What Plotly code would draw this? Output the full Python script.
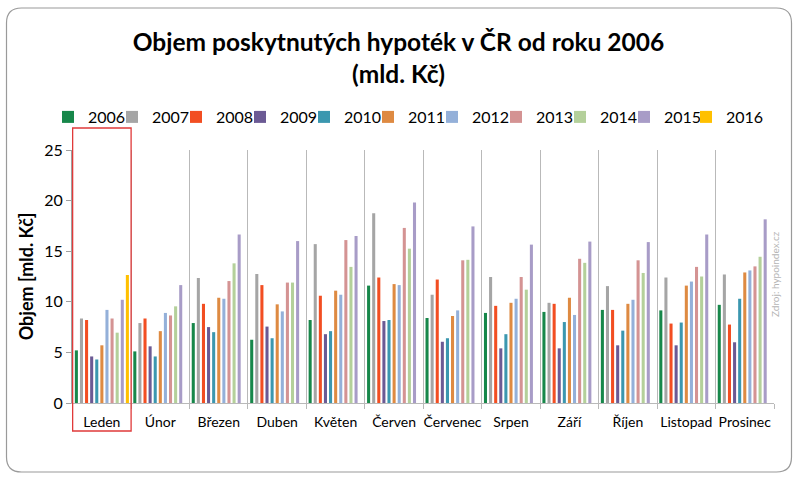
import plotly.graph_objects as go

months = ["Leden", "Únor", "Březen", "Duben", "Květen", "Červen",
          "Červenec", "Srpen", "Září", "Říjen", "Listopad", "Prosinec"]

v2006 = [5.2, 5.1, 7.9, 6.25, 8.2, 11.6, 8.4, 8.9, 9.0, 9.2, 9.15, 9.7]
v2007 = [8.35, 7.9, 12.35, 12.75, 15.7, 18.75, 10.7, 12.45, 9.9, 11.55, 12.4, 12.7]
v2008 = [8.2, 8.35, 9.8, 11.65, 10.6, 12.4, 12.2, 9.6, 9.8, 9.2, 7.85, 7.75]
v2009 = [4.6, 5.6, 7.5, 7.55, 6.8, 8.1, 6.05, 5.4, 5.4, 5.7, 5.7, 6.0]
v2010 = [4.3, 4.6, 7.0, 6.4, 7.1, 8.2, 6.4, 6.8, 8.0, 7.15, 7.95, 10.3]
v2011 = [5.7, 7.1, 10.4, 9.75, 11.1, 11.75, 8.6, 9.9, 10.4, 9.8, 11.6, 12.9]
v2012 = [9.2, 8.9, 10.3, 9.05, 10.7, 11.65, 9.15, 10.3, 8.7, 10.2, 12.0, 13.1]
v2013 = [8.35, 8.65, 12.05, 11.9, 16.1, 17.3, 14.1, 12.45, 14.25, 14.1, 13.45, 13.5]
v2014 = [6.95, 9.55, 13.8, 11.9, 13.45, 15.25, 14.15, 11.2, 13.85, 12.85, 12.5, 14.45]
v2015 = [10.2, 11.65, 16.65, 16.0, 16.5, 19.8, 17.45, 15.65, 15.95, 15.9, 16.65, 18.15]
v2016 = [12.65, None, None, None, None, None, None, None, None, None, None, None]

years = ["2006", "2007", "2008", "2009", "2010", "2011",
         "2012", "2013", "2014", "2015", "2016"]
series = [v2006, v2007, v2008, v2009, v2010, v2011,
          v2012, v2013, v2014, v2015, v2016]
colors = ["#17874a", "#a5a5a5", "#f24e22", "#6b5a94", "#3b97af", "#de8a42",
          "#94b0d9", "#d49393", "#b4d09a", "#a89cc7", "#ffc000"]

y_ticks = [0, 5, 10, 15, 20, 25]

FONT = "Lato"

fig = go.Figure()
for i, (name, vals, col) in enumerate(zip(years, series, colors)):
    fig.add_trace(go.Bar(x=months, y=vals, name=name, marker_color=col,
                         marker_line_width=0,
                         legend="legend2" if name == "2016" else "legend",
                         legendrank=i + 1))
# invisible spacer entry so the last text of the first legend is not clipped
fig.add_trace(go.Scatter(x=[None], y=[None], mode="markers", name=" ",
                         marker=dict(color="rgba(0,0,0,0)", size=1),
                         legend="legend", legendrank=50, hoverinfo="skip"))

W_px, H_px = 702.0, 253.0
def px(xp):
    return (xp - 72) / W_px
def py(yp):
    return (403 - yp) / H_px

fig.update_layout(
    width=797, height=477,
    margin=dict(l=72, r=23, t=150, b=74, autoexpand=False),
    paper_bgcolor="white", plot_bgcolor="white",
    barmode="group", bargap=0.04, bargroupgap=0.4,
    font=dict(family=FONT, color="black"),
    title=dict(text="<b>Objem poskytnutých hypoték v ČR od roku 2006<br>(mld. Kč)</b>",
               x=0.5, xanchor="center", y=1 - 51 / 477, yanchor="middle",
               font=dict(size=24.5, family=FONT, color="black"), automargin=False),
    showlegend=True,
    legend=dict(orientation="h", x=px(48), xanchor="left", y=py(117), yanchor="middle",
                font=dict(size=16, family=FONT), entrywidth=19, entrywidthmode="pixels",
                itemwidth=30, bgcolor="rgba(0,0,0,0)", traceorder="normal"),
    legend2=dict(orientation="h", x=px(686), xanchor="left", y=py(117),
                 yanchor="middle", font=dict(size=16, family=FONT),
                 itemwidth=30, bgcolor="rgba(0,0,0,0)"),
    xaxis=dict(type="category", tickson="boundaries", showgrid=True,
               gridcolor="#b9b9b9", gridwidth=1.3, ticks="outside", ticklen=5,
               tickcolor="#b9b9b9", showline=True, linecolor="#b9b9b9", linewidth=1.3,
               tickangle=0, automargin=False, ticklabelstandoff=6,
               tickfont=dict(size=14, family=FONT), fixedrange=True),
    yaxis=dict(range=[0, 25], tickvals=y_ticks, showgrid=False, zeroline=False,
               showline=True, linecolor="#a0a0a0", linewidth=1.2, ticks="outside",
               ticklen=5, tickcolor="#a0a0a0", tickfont=dict(size=16, family=FONT),
               automargin=False,
               title=dict(text="<b>Objem [mld. Kč]</b>", font=dict(size=18, family=FONT),
                          standoff=5)),
)

# outer rounded frame
L, R, T, B, r = 6.5, 791.5, 8.0, 472.0, 15.0
path = (f"M {px(L+r)},{py(T)} L {px(R-r)},{py(T)} Q {px(R)},{py(T)} {px(R)},{py(T+r)} "
        f"L {px(R)},{py(B-r)} Q {px(R)},{py(B)} {px(R-r)},{py(B)} "
        f"L {px(L+r)},{py(B)} Q {px(L)},{py(B)} {px(L)},{py(B-r)} "
        f"L {px(L)},{py(T+r)} Q {px(L)},{py(T)} {px(L+r)},{py(T)} Z")
fig.add_shape(type="path", path=path, xref="paper", yref="paper",
              line=dict(color="#9a9a9a", width=1.2), layer="below")

# red highlight rectangle around "Leden"
fig.add_shape(type="rect", xref="x", yref="paper", x0=-0.5, x1=0.5,
              y0=py(431), y1=py(128), line=dict(color="#e03a3a", width=1.3))

fig.add_annotation(text="Zdroj: hypoindex.cz", xref="paper", yref="paper",
                   x=px(783), y=py(319), textangle=-90, showarrow=False,
                   font=dict(size=10, family=FONT, color="#b5b5b5"))

fig.write_html("out.html", config={"displayModeBar": False},
               post_script="document.body.style.margin='0px';")
